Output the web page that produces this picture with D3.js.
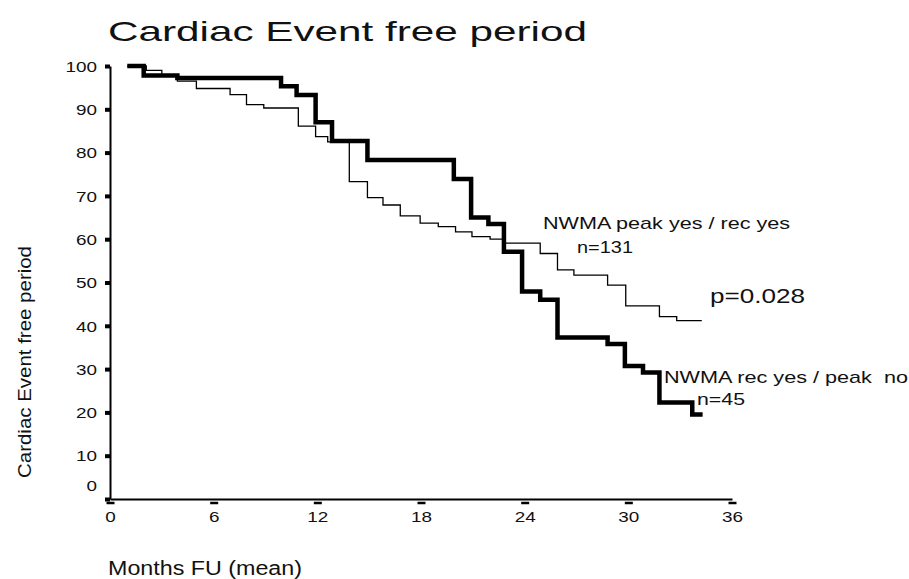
<!DOCTYPE html>
<html>
<head>
<meta charset="utf-8">
<script src="https://cdn.jsdelivr.net/npm/d3@7"></script>
<style>
    body { margin: 0; background: #fff; }
    text { font-family: "Liberation Sans", Arial, sans-serif; fill: #111; white-space: pre; }
</style>
</head>
<body>
<div id="wrapper"></div>
<script>
// months FU where each step starts, and survival (%) from that point
const thinTimes = [1, 2.1, 3.0, 3.9, 5.0, 6.95, 7.9, 8.9, 10.9, 11.9, 12.6, 13.85, 14.9, 15.8, 16.8, 17.95, 19.0, 20.0, 20.95, 22.0, 22.75, 24.9, 25.9, 26.85, 28.8, 29.85, 31.8, 32.8, 34.25];
const thinValues = [100, 99, 97.7, 96.5, 94.8, 93.4, 91.1, 90.3, 86.1, 83.7, 82.5, 73.3, 69.6, 67.9, 65.4, 63.7, 62.9, 61.7, 60.6, 60.0, 59.1, 56.7, 52.9, 51.7, 49.4, 44.6, 42.1, 41.2, 41.2];

const thickTimes = [1, 1.95, 3.9, 9.9, 10.8, 11.9, 12.85, 14.9, 19.9, 20.9, 21.9, 22.8, 23.85, 24.9, 25.9, 28.8, 29.8, 30.85, 31.8, 33.7, 34.3];
const thickValues = [100, 97.8, 97.2, 95.3, 93.3, 87.0, 82.7, 78.3, 73.9, 65.0, 63.5, 57.1, 47.9, 46.0, 37.3, 35.8, 30.7, 29.2, 22.3, 19.5, 19.5];

const xTicks = [0, 6, 12, 18, 24, 30, 36];
const yTicks = [0, 10, 20, 30, 40, 50, 60, 70, 80, 90, 100];

const labels = {
    title: "Cardiac Event free period",
    yAxis: "Cardiac Event free period",
    xAxis: "Months FU (mean)",
    thin: "NWMA peak yes / rec yes",
    thinN: "n=131",
    thick: "NWMA rec yes / peak  no",
    thickN: "n=45",
    p: "p=0.028"
};

function build() {
    var dimension = {
        width: 909,
        height: 579,
        margin: { top: 66, right: 177, bottom: 80, left: 110 }
    };
    dimension.boundedWidth = dimension.width - dimension.margin.left - dimension.margin.right;
    dimension.boundedHeight = dimension.height - dimension.margin.top - dimension.margin.bottom;

    const svg = d3.select("#wrapper")
        .append("svg")
        .attr("width", dimension.width)
        .attr("height", dimension.height);

    const x = d3.scaleLinear()
        .domain([0, 36])
        .range([dimension.margin.left, dimension.margin.left + dimension.boundedWidth]);
    const y = d3.scaleLinear()
        .domain([0, 100])
        .range([dimension.margin.top + dimension.boundedHeight, dimension.margin.top]);

    // y axis
    const yAxis = svg.append("g")
        .attr("transform", `translate(${dimension.margin.left},0)`)
        .call(d3.axisLeft(y).tickValues(yTicks).tickSize(5).tickSizeOuter(0).tickPadding(8));
    yAxis.select(".domain").attr("stroke", "#000").attr("stroke-width", 2);
    yAxis.selectAll(".tick line").attr("stroke", "#000").attr("stroke-width", 4);
    yAxis.selectAll(".tick text")
        .attr("font-size", 15)
        .attr("dy", d => d === 0 ? "-0.55em" : "0.35em")
        .attr("textLength", d => String(d).length * 10.5)
        .attr("lengthAdjust", "spacingAndGlyphs");

    // x axis
    const xAxis = svg.append("g")
        .attr("transform", `translate(0,${dimension.margin.top + dimension.boundedHeight})`)
        .call(d3.axisBottom(x).tickValues(xTicks).tickSize(0).tickSizeOuter(0));
    xAxis.select(".domain").attr("stroke", "#000").attr("stroke-width", 2);
    xAxis.selectAll(".tick line")
        .attr("stroke", "#000")
        .attr("stroke-width", 2.5)
        .attr("x1", -4).attr("x2", 4)
        .attr("y1", 4).attr("y2", 4);
    xAxis.selectAll(".tick text")
        .attr("font-size", 15)
        .attr("y", 12)
        .attr("textLength", d => String(d).length * 10.5)
        .attr("lengthAdjust", "spacingAndGlyphs");
    xAxis.selectAll("text").attr("fill", "#111");
    yAxis.selectAll("text").attr("fill", "#111");

    // curves
    const step = d3.line()
        .x(d => x(d[0]))
        .y(d => y(d[1]))
        .curve(d3.curveStepAfter);

    svg.append("path")
        .datum(d3.zip(thinTimes, thinValues))
        .attr("d", step)
        .attr("fill", "none")
        .attr("stroke", "#000")
        .attr("stroke-width", 1.3);

    svg.append("path")
        .datum(d3.zip(thickTimes, thickValues))
        .attr("d", step)
        .attr("fill", "none")
        .attr("stroke", "#000")
        .attr("stroke-width", 4.5)
        .attr("stroke-linejoin", "miter");

    // texts
    function txt(s, px, py, size, len) {
        return svg.append("text")
            .attr("x", px).attr("y", py)
            .attr("font-size", size)
            .attr("textLength", len)
            .attr("lengthAdjust", "spacingAndGlyphs")
            .text(s);
    }
    txt(labels.title, 108, 41, 28, 479);
    txt(labels.xAxis, 108, 575, 20, 194);
    txt(labels.thin, 543, 229, 17, 247);
    txt(labels.thinN, 577, 253, 17, 56);
    txt(labels.p, 710, 303, 21, 95);
    txt(labels.thick, 664, 383, 17, 244);
    txt(labels.thickN, 697, 405, 17, 48);

    svg.append("text")
        .attr("transform", "translate(31,362) rotate(-90)")
        .attr("text-anchor", "middle")
        .attr("font-size", 19)
        .attr("textLength", 232)
        .attr("lengthAdjust", "spacingAndGlyphs")
        .text(labels.yAxis);
}
build();
</script>
</body>
</html>
